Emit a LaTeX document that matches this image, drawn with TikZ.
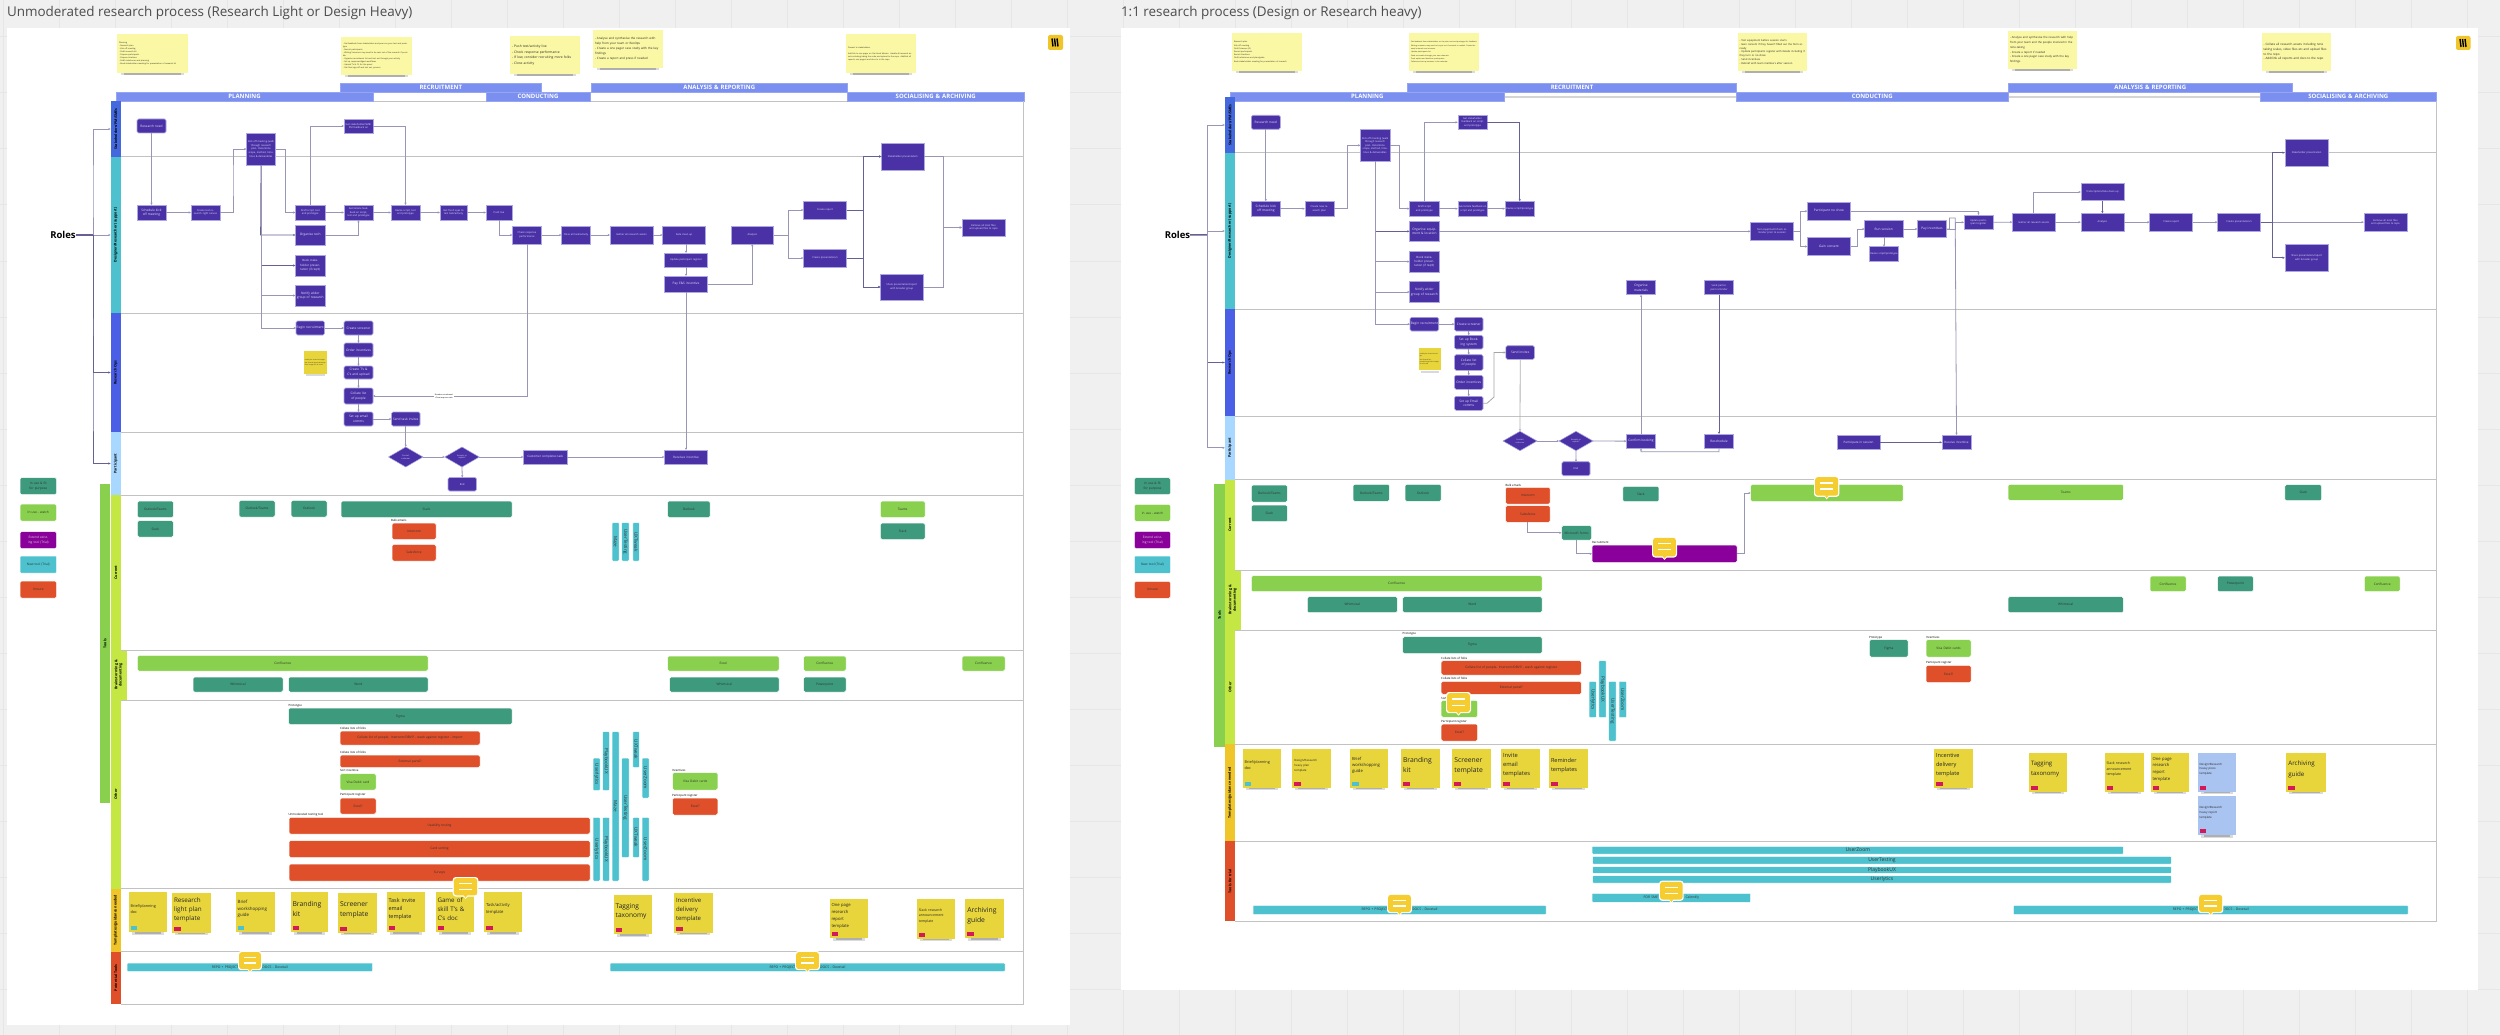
\documentclass[tikz,border=0pt]{standalone}
\usepackage{fontspec}
\setmainfont{Open Sans}
\usetikzlibrary{arrows.meta,shapes.geometric}
\definecolor{bgc}{HTML}{F0F0F0}\definecolor{gridc}{HTML}{E6E6E6}
\definecolor{procf}{HTML}{4A32A6}\definecolor{procb}{HTML}{ABA8E2}\definecolor{proct}{HTML}{E4E0F6}
\definecolor{phasec}{HTML}{7A8FEF}\definecolor{hrc}{HTML}{C2C2C2}
\definecolor{dkg}{HTML}{3D9A7C}\definecolor{ltg}{HTML}{88D04E}\definecolor{redc}{HTML}{DF4F2A}
\definecolor{tealc}{HTML}{4DC1CD}\definecolor{purc}{HTML}{8A009A}
\definecolor{limec}{HTML}{C4E744}\definecolor{yelc}{HTML}{F0C52A}
\definecolor{laneA}{HTML}{4468DE}\definecolor{laneC}{HTML}{4A5EE6}\definecolor{laneD}{HTML}{A8D8FF}
\definecolor{stkY}{HTML}{E8D53C}\definecolor{stkB}{HTML}{A9C4F0}\definecolor{noteY}{HTML}{FBF8A5}
\definecolor{tagR}{HTML}{D21A5A}\definecolor{tagC}{HTML}{4DC1CD}
\definecolor{cmtc}{HTML}{F5CD30}\definecolor{linec}{HTML}{9895B5}\definecolor{lined}{HTML}{666194}
\newcommand\Sz[2]{\fontsize{#1}{#2}\selectfont}
\tikzset{
 x=1pt,y=-1pt,
 base/.style={inner sep=0pt,outer sep=0pt,align=center},
 prc/.style={base,fill=procf,draw=procb,line width=.6pt,text=proct,font=\Sz{3.2}{4.6}},
 prr/.style={prc,rounded corners=1.5pt},
 prs/.style={prc,font=\Sz{2.5}{3.6}},
 dia/.style={diamond,inner sep=0pt,outer sep=0pt,align=center,fill=procf,draw=procb,line width=.5pt,text=proct,font=\Sz{2}{2.8}},
 tool/.style={base,rounded corners=1.5pt,draw=white,line width=.5pt,text=black!80,font=\Sz{3.2}{4.4}},
 toolD/.style={tool,fill=dkg},toolL/.style={tool,fill=ltg},toolR/.style={tool,fill=redc},
 toolT/.style={tool,fill=tealc,rounded corners=.8pt},toolP/.style={tool,fill=purc,text=white},
 phase/.style={base,fill=phasec,draw=phasec!80!white,line width=.4pt,text=white,font=\bfseries\Sz{6}{7}},
 lane/.style={base,text=black,font=\bfseries\Sz{3.6}{4.4}},
 hr/.style={draw=hrc,line width=1pt},
 conn/.style={draw=linec,line width=.8pt,-{Stealth[length=2.4pt,width=2.2pt]}},
 connd/.style={conn,draw=lined},
 lbl/.style={inner sep=0pt,outer sep=0pt,anchor=west,text=black,font=\Sz{2.9}{3.4}},
 ltext/.style={inner sep=0pt,outer sep=0pt,anchor=west,text=black!70,font=\Sz{13.45}{15}}
}
\newcommand\Bx[7]{\pgfmathsetmacro\tw{max(#5-#3-1,1)}\node[#1,minimum width={#5-#3},minimum height={#6-#4},text width=\tw pt] (#2) at ({(#3+#5)/2},{(#4+#6)/2}) {#7};}
\newcommand\Vb[8]{\node[#1,rotate=#2,minimum width={#7-#5},minimum height={#6-#4}] (#3) at ({(#4+#6)/2},{(#5+#7)/2}) {#8};}
\newcommand\Lb[4]{\node[lbl] (#1) at (#2,#3) {#4};}
\newcommand\Nt[8]{\pgfmathsetmacro\tw{#4-#2-4}%
 \fill[black,opacity=.14] ({#2+4},{#5-.5}) rectangle ({#4-4},{#5+2.4});\fill[black,opacity=.2] ({#2+7},{#5}) rectangle ({#4-7},{#5+1.6});%
 \node[inner sep=0pt,outer sep=0pt,fill=noteY,minimum width={#4-#2},minimum height={#5-#3},text width=\tw pt,align=left,text=black!85,font=\Sz{#6}{#7}] (#1) at ({(#2+#4)/2},{(#3+#5)/2}) {#8};}
\newcommand\Stk[9]{\pgfmathsetmacro\tw{#5-#3-4}%
 \fill[black,opacity=.14] ({#3+3},{#6-.5}) rectangle ({#5-3},{#6+2.6});\fill[black,opacity=.2] ({#3+6},{#6}) rectangle ({#5-6},{#6+1.6});%
 \node[inner sep=0pt,outer sep=0pt,fill=#1,minimum width={#5-#3},minimum height={#6-#4}] (#2) at ({(#3+#5)/2},{(#4+#6)/2}) {};%
 \fill[#8] ({#3+2},{#6-6}) rectangle ({#3+8.5},{#6-2});%
 \node[inner sep=0pt,outer sep=0pt,text width=\tw pt,align=left,text=black!85,font=#7,yshift=3pt] (#2t) at (#2.center) {#9};}
\newcommand\Cmt[4]{\pgfmathsetmacro\cmx{(#1+#3)/2}\pgfmathsetmacro\cw{#3-#1}\pgfmathsetmacro\ch{#4-#2}%
 \fill[white] ({\cmx-3},{#4-3.5}) -- ({\cmx+3},{#4-3.5}) -- (\cmx,#4) -- cycle;%
 \fill[white,rounded corners=3pt] (#1,#2) rectangle (#3,{#4-2.5});%
 \fill[cmtc] ({\cmx-2},{#4-4}) -- ({\cmx+2},{#4-4}) -- (\cmx,{#4-1.2}) -- cycle;%
 \fill[cmtc,rounded corners=2.4pt] ({#1+1.2},{#2+1.2}) rectangle ({#3-1.2},{#4-3.7});%
 \fill[white] ({#1+.25*\cw},{#2+.30*\ch-.7}) rectangle ({#3-.25*\cw},{#2+.30*\ch+.7});%
 \fill[white] ({#1+.25*\cw},{#2+.56*\ch-.7}) rectangle ({#3-.25*\cw},{#2+.56*\ch+.7});}
\begin{document}
\begin{tikzpicture}
\useasboundingbox (0,0) rectangle (2500,1035);
\fill[bgc] (0,0) rectangle (2500,1035);
\foreach \gx in {3,59,...,2500} \draw[gridc,line width=1pt] (\gx,0) -- (\gx,1035);
\foreach \gy in {37,93,...,1035} \draw[gridc,line width=1pt] (0,\gy) -- (2500,\gy);
% frames
\fill[white] (6.5,28) rectangle (1070,1025);
\fill[white] (1121,28) rectangle (2478,990);
\node[ltext] (titleL) at (7,13) {Unmoderated research process (Research Light or Design Heavy)};
\node[ltext] (titleR) at (1121,13) {1:1 research process (Design or Research heavy)};
% ---------- LEFT ----------
\Nt{ln1}{117}{34}{188}{73}{2}{3}{Planning\\- Research plan\\- Kick off meeting\\- Draft research kit\\- Prepare participants\\- Prepare timelines\\- Draft milestones and planning\\- Book stakeholders meeting for presentation of research kit}
\Nt{ln2}{341}{37}{412}{75}{2}{3}{- Get feedback from stakeholders and peers on your test and prototype\\- Recruit participants\\- Writing Screeners may need to be sent out of the research if possible\\- Organise recruitment list and test out through your activity\\- Set up response/digest workflows\\- Upload T's \& C's for the panel\\- Get final sign-off and test out, process}
\Nt{ln3}{510}{36}{580}{74}{3.3}{5.7}{- Push test/activity live\\- Check response performance\\- If low, consider recruiting more folks\\- Close activity}
\Nt{ln4}{593}{30}{663}{68}{3}{4.9}{- Analyse and synthesise the research with help from your team or ResOps\\- Create a one pager case study with the key findings\\- Create a report and press if needed}
\Nt{ln5}{846}{34}{916}{73}{2}{3}{Present to stakeholders\\[3pt]Add link to one pager on Get Hook Mentor. Handle all research assets including taking the scale and upload to the repo. Add/link all reports, one pagers and docs to in the repo}
\fill[white,rounded corners=1.5pt] (1044,32) rectangle (1067,54);
\fill[yelc,rounded corners=2pt] (1048,35) rectangle (1063,50);
\foreach \mx in {1052,1054.5,1057} \draw[black,line width=1.4pt] (\mx,38.5) -- ({\mx+1},46.5);
\draw[hrc,line width=.8pt] (116,101) -- (1023.5,101);
\Bx{phase}{phL1}{116}{92}{373}{101}{PLANNING}
\Bx{phase}{phL2}{340}{83}{541.5}{92}{RECRUITMENT}
\Bx{phase}{phL3}{486}{92}{590}{101}{CONDUCTING}
\Bx{phase}{phL4}{591}{83}{847.5}{92}{ANALYSIS \& REPORTING}
\Bx{phase}{phL5}{847.5}{92}{1024}{101}{SOCIALISING \& ARCHIVING}
\Vb{lane,fill=ltg}{90}{lsT}{100}{484}{110}{803}{Tools}
\Vb{lane,fill=laneA}{90}{lsA}{110.6}{101}{121}{157}{Stakeholders/PM/SMEs}
\Vb{lane,fill=tealc}{90}{lsB}{110.6}{157}{121}{313}{Designer/Researcher (support)}
\Vb{lane,fill=laneC}{90}{lsC}{110.6}{313}{121}{432}{Research Ops}
\Vb{lane,fill=laneD}{90}{lsD}{110.6}{432}{121}{495}{Participant}
\Vb{lane,fill=limec}{90}{lsE}{110.6}{495}{121}{650}{Current}
\Vb{lane,fill=limec}{90}{lsF}{110.6}{650}{126.5}{700}{Brainstorming \&\\documenting}
\Vb{lane,fill=limec}{90}{lsG}{110.6}{700}{121}{888.5}{Other}
\Vb{lane,fill=yelc}{90}{lsH}{110.6}{888.5}{121}{951.6}{Templates/guidance needed}
\Vb{lane,fill=redc}{90}{lsI}{110.6}{951.6}{121}{1004}{Potential Tools}
\foreach \hy in {157,313,432,495,650,700,888.5,951.6,1004} \draw[hr] (121,\hy) -- (1023.5,\hy);
\draw[hr] (1023.5,101) -- (1023.5,1004);
\node[inner sep=0pt,outer sep=0pt,text=black,font=\bfseries\Sz{9.5}{11}] (rolesL) at (63,235) {Roles};
\draw[connd,-,line width=1.3pt] (rolesL.east) -- (93,235);
\draw[conn] (rolesL.east) -| (93,200) |- (lsA.north);
\draw[conn] (rolesL.east) -- (lsB.north);
\draw[connd] (rolesL.east) -| (93,300) |- (lsC.north);
\draw[connd] (rolesL.east) -| (93,400) |- (lsD.north);
% left process nodes
\Bx{prr}{a1}{137}{119}{166}{133}{Research need}
\Bx{prc}{a2}{137}{205}{166}{220}{Schedule kick off meeting}
\Bx{prs}{a3}{191}{205}{220}{220}{Create test research -light canvas}
\Bx{prs}{a4}{246.5}{133}{275.5}{165}{Kick off meeting (walk through research plan. Determine scope, method, timelines \& deliverables}
\Bx{prs}{a5}{295.5}{205}{325}{220}{Draft script, test and prototype}
\Bx{prs}{a6}{344}{119}{373}{133}{Get stakeholder/SME/ PM feedback on}
\Bx{prs}{a7}{344}{205}{373}{220}{Get/collate feedback on script, test and prototype}
\Bx{prs}{a8}{391}{205}{420}{220}{Revise script, test and prototype}
\Bx{prs}{a9}{440}{205}{467}{220}{Get fresh eyes to test task/activity}
\Bx{prs}{a10}{486}{205}{512}{220}{Push live}
\Bx{prs}{a11}{512.5}{226}{541.5}{244}{Check response performance}
\Bx{prs}{a12}{561.5}{226}{590.5}{244}{Close all task/activity}
\Bx{prc}{a13}{295.5}{225}{325}{245}{Organise tech}
\Bx{prs,font=\Sz{2.9}{4.4}}{a14}{295.5}{255}{325}{276}{Book stakeholder presentation (if req'd)}
\Bx{prc}{a15}{295.5}{285}{325}{306}{Notify wider group of research}
\Bx{prr}{a16}{296}{321}{324.5}{335}{Begin recruitment}
\Bx{prr}{a17}{344}{321}{373}{335}{Create screener}
\Bx{prr}{a18}{344}{343}{373}{357}{Order incentives}
\Bx{prr}{a19}{344}{366}{373}{379}{Create T's \& C's and upload}
\Bx{prr}{a20}{344}{388}{373}{404}{Collate list of people}
\Bx{prr}{a21}{344}{412}{373}{426}{Set up email comms}
\Bx{prr}{a22}{391.5}{412}{420}{426}{Send task invites}
\Bx{prs}{a23}{610}{226}{653}{244}{Gather all research assets}
\Bx{prs}{a24}{662.6}{226}{705.5}{244}{Data clean up}
\Bx{prs}{a25}{664.5}{253}{707.5}{267}{Update participant register}
\Bx{prc}{a26}{664.5}{276}{707.5}{292}{Pay E\&S incentive}
\Bx{prs}{a27}{731}{226}{773.5}{244}{Analysis}
\Bx{prs}{a28}{803.5}{201}{846.5}{219}{Create report}
\Bx{prs}{a29}{803.5}{249}{846.5}{267}{Create presentation/s}
\Bx{prs}{a30}{881.5}{143}{924}{170}{Stakeholder presentation}
\Bx{prs}{a31}{880.5}{274}{923}{300}{Share presentation/report with broader group}
\Bx{prs}{a32}{962}{219}{1005}{236}{Remove all local files and upload files to repo}
\node[dia,minimum width=34.5pt,minimum height=20pt,aspect=1.7] (d1) at (405.75,457) {Contact\\customer};
\node[dia,minimum width=34.5pt,minimum height=20pt,aspect=1.7] (d2) at (462,457) {Accepts or\\rejects?};
\Bx{prr,font=\Sz{2.6}{3.6}}{a33}{448}{477.5}{476.5}{491}{End}
\Bx{prs,font=\Sz{3}{4}}{a34}{523.5}{450}{567}{464}{Customer completes task}
\Bx{prs,font=\Sz{3}{4}}{a35}{664.5}{450}{707.5}{464}{Receives incentive}
% yellow small note left
\fill[black,opacity=.15] (306,373.5) rectangle (325,376);
\node[inner sep=.8pt,fill=stkY,minimum width=22.5pt,minimum height=23pt,text width=20.9pt,align=left,text=black!85,font=\Sz{1.5}{2.2}] (yn1) at (315.25,362.5) {Initially the incentive budget.\\[1pt]Get financial approval/charge front budget for all travel};
% left connectors
\draw[conn] (a1.south) -- (a2.north);
\draw[conn] (a2.east) -- (a3.west);
\draw[conn] (a3.east) -| (233,180) |- (a4.west);
\draw[conn] (a4.east) -| (285.5,180) |- (a5.west);
\draw[connd] (a4.south) -- (260.6,235) -- (a13.west);
\draw[connd] (a4.south) |- (a14.west);
\draw[conn] (a4.south) |- (a15.west);
\draw[conn] (a4.south) |- (a16.west);
\draw[conn] (a5.north) |- (a6.west);
\draw[conn] (a6.east) -| (a8.north);
\draw[conn] (a5.east) -- (a7.west);
\draw[conn] (a7.east) -- (a8.west);
\draw[conn] (a8.east) -- (a9.west);
\draw[conn] (a9.east) -- (a10.west);
\draw[conn] (a10.south) |- (a11.west);
\draw[conn] (a11.east) -- (a12.west);
\draw[conn] (a12.east) -- (a23.west);
\draw[conn] (a23.east) -- (a24.west);
\draw[conn] (a13.east) -| (a7.south);
\draw[conn] (a16.east) -- (a17.west);
\draw[conn] (a17.south) -- (a18.north);
\draw[conn] (a18.south) -- (a19.north);
\draw[conn] (a19.south) -- (a20.north);
\draw[conn] (a20.south) -- (a21.north);
\draw[conn] (a21.east) -- (a22.west);
\draw[conn] (a22.south) -- (d1.north);
\draw[conn] (d1.east) -- (d2.west);
\draw[conn] (d2.south) -- (a33.north);
\draw[conn] (d2.east) -- (a34.west);
\draw[conn] (a34.east) -- (a35.west);
\draw[conn] (a24.south -| a25.north) -- (a25.north);
\draw[conn] (a25.south) -- (a26.north);
\draw[conn] (a26.south) -- (a35.north);
\draw[conn] (a26.east) -| (a27.south);
\draw[conn] (a27.east) -| (788,226) |- (a28.west);
\draw[conn] (a27.east) -| (788,240) |- (a29.west);
\draw[connd] (a28.east) -| (863.6,180) |- (a30.west);
\draw[connd] (a28.east) -| (863.6,250) |- (a31.west);
\draw[connd] (a29.east) -| (863.6,200) |- (a30.west);
\draw[connd] (a29.east) -| (863.6,275) |- (a31.west);
\draw[conn] (a30.east) -| (943,200) |- (a32.west);
\draw[conn] (a31.east) -| (943,250) |- (a32.west);
\draw[conn] (a11.south) |- (a20.east);
\node[fill=white,inner sep=.6pt,align=center,text=black,font=\Sz{1.9}{2.6}] (lb1) at (444,396.5) {Broader recruitment\\if low response rate};
% left legend
\Bx{toolD}{lgL1}{20}{477.5}{56.6}{494.7}{In use \& fit for purpose}
\Bx{toolL}{lgL2}{20}{504}{56.6}{521}{In use - watch}
\Bx{toolP,text=white!85!black}{lgL3}{20}{531.5}{56.6}{548.6}{Extend existing tool (Trial)}
\Bx{toolT}{lgL4}{20}{556}{56.6}{573}{New tool (Trial)}
\Bx{toolR}{lgL5}{20}{581}{56.6}{598}{Unsure}
% left tools current
\Bx{toolD}{ta1}{137.4}{501}{173.4}{517.6}{Outlook/Teams}
\Bx{toolD}{ta2}{137.4}{520.7}{173.4}{537}{Slack}
\Bx{toolD}{ta3}{239}{500.4}{275}{517}{Outlook/Teams}
\Bx{toolD}{ta4}{291}{500.4}{327}{517}{Outlook}
\Bx{toolD}{ta5}{341}{501}{512}{517.6}{Slack}
\Lb{la1}{391}{520.7}{Bulk emails}
\Bx{toolR}{ta6}{392}{523}{436}{539.5}{Intercom}
\Bx{toolR}{ta7}{392}{544.4}{436}{561}{Salesforce}
\Vb{toolT,font=\Sz{4.6}{5}}{-90}{tv1}{612}{522.6}{619}{561}{Maze}
\Vb{toolT,font=\Sz{4.6}{5}}{-90}{tv2}{621.7}{522.6}{629}{561}{UserTesting}
\Vb{toolT,font=\Sz{4.6}{5}}{-90}{tv3}{632.8}{522.6}{639.3}{561}{UXTweak}
\Bx{toolD}{ta8}{667.6}{501}{710}{517.6}{Outlook}
\Bx{toolL}{ta9}{880.4}{501}{925}{517.6}{Teams}
\Bx{toolD}{ta10}{880.4}{523}{925}{539.5}{Slack}
% left brainstorm
\Bx{toolL}{tb1}{137.4}{655.4}{428}{671}{Confluence}
\Bx{toolD}{tb2}{193}{677}{283}{692}{Whimsical}
\Bx{toolD}{tb3}{288.6}{677}{428}{692}{Word}
\Bx{toolL}{tb4}{667.6}{656}{779}{671}{Excel}
\Bx{toolD}{tb5}{669.5}{677}{779}{692}{Whimsical}
\Bx{toolL}{tb6}{803.5}{656}{846}{671}{Confluence}
\Bx{toolD}{tb7}{803.5}{677}{846}{692}{Powerpoint}
\Bx{toolL}{tb8}{962}{656}{1005}{671}{Confluence}
% left other
\Lb{la2}{288.6}{705.5}{Prototype}
\Bx{toolD}{tc1}{288.6}{708}{512}{724.7}{Figma}
\Lb{la3}{340}{728.5}{Collate lists of folks}
\Bx{toolR}{tc2}{340}{731}{480}{745}{Collate list of people. Intercom/DBVI? - wash against register - import}
\Lb{la4}{340}{752.4}{Collate lists of folks}
\Bx{toolR}{tc3}{340}{755}{480}{767.5}{External panel?}
\Lb{la5}{340}{770.8}{Sort incentive}
\Bx{toolL}{tc4}{340}{773.7}{376}{790}{Visa Debit card}
\Lb{la6}{340}{794.9}{Participant register}
\Bx{toolR}{tc5}{340}{798}{376}{814}{Excel?}
\Lb{la7}{288.6}{814.8}{Unmoderated testing tool}
\Bx{toolR}{tc6}{289}{817.3}{590}{834}{Usability testing}
\Bx{toolR}{tc7}{289}{840.6}{590}{857.5}{Card sorting}
\Bx{toolR}{tc8}{289}{864}{590}{881}{Surveys}
\Vb{toolT,font=\Sz{4.6}{5}}{-90}{tw1}{593}{758}{600}{790.5}{Userlytics}
\Vb{toolT,font=\Sz{4.6}{5}}{-90}{tw2}{602.6}{731.6}{609.5}{790.5}{PlaybookUX}
\Vb{toolT,font=\Sz{4.6}{5}}{-90}{tw3}{612}{731.6}{619}{881}{Maze}
\Vb{toolT,font=\Sz{4.6}{5}}{-90}{tw4}{621.7}{758}{629}{857.5}{UserTesting}
\Vb{toolT,font=\Sz{4.6}{5}}{-90}{tw5}{632.8}{731.6}{639.3}{767.5}{UXTweak}
\Vb{toolT,font=\Sz{4.6}{5}}{-90}{tw6}{642}{758}{649}{798}{UserZoom}
\Vb{toolT,font=\Sz{4.6}{5}}{-90}{tw7}{593}{817.3}{600}{881}{Userlytics}
\Vb{toolT,font=\Sz{4.6}{5}}{-90}{tw8}{602.6}{817.3}{609.5}{881}{PlaybookUX}
\Vb{toolT,font=\Sz{4.6}{5}}{-90}{tw9}{632.8}{817.3}{639.3}{857.5}{UXTweak}
\Vb{toolT,font=\Sz{4.6}{5}}{-90}{tw10}{642}{817.3}{649}{881}{UserZoom}
\Lb{la8}{672}{770}{Incentives}
\Bx{toolL}{tc9}{672.6}{772.5}{717.8}{790}{Visa Debit cards}
\Lb{la9}{672}{796}{Participant register}
\Bx{toolR}{tc10}{672.6}{798}{717.8}{815}{Excel?}
% left template stickies
\Stk{stkY}{sa1}{128.6}{892}{167}{932}{\Sz{3.8}{6}}{tagC}{Brief/planning\\doc}
\Stk{stkY}{sa2}{172}{893}{211}{932.5}{\Sz{6.3}{8.8}}{tagR}{Research\\light plan\\template}
\Stk{stkY}{sa3}{235.7}{892}{275}{932}{\Sz{4.4}{6.2}}{tagC}{Brief\\workshopping\\guide}
\Stk{stkY}{sa4}{290.5}{892}{328}{932}{\Sz{6.8}{9.6}}{tagR}{Branding\\kit}
\Stk{stkY}{sa5}{338}{893}{377}{932.5}{\Sz{6.8}{9.6}}{tagR}{Screener\\template}
\Stk{stkY}{sa6}{386.5}{892}{425}{932}{\Sz{5.5}{8.3}}{tagR}{Task invite\\email\\template}
\Stk{stkY}{sa7}{435.5}{892}{474}{932}{\Sz{6.2}{9}}{tagR}{Game of\\skill T's \&\\C's doc}
\Stk{stkY}{sa8}{484}{892}{522}{932}{\Sz{4.2}{7.5}}{tagR}{Task/activity\\template}
\Stk{stkY}{sa9}{613.7}{894.6}{652}{934}{\Sz{6.6}{9.4}}{tagR}{Tagging\\taxonomy}
\Stk{stkY}{sa10}{674}{893}{713}{932.5}{\Sz{6}{8.8}}{tagR}{Incentive\\delivery\\template}
\Stk{stkY}{sa11}{829.5}{899}{868}{938}{\Sz{4.2}{7}}{tagR}{One page\\research\\report\\template}
\Stk{stkY}{sa12}{916.8}{899}{955.4}{938.6}{\Sz{3.5}{5.6}}{tagR}{Slack research\\announcement\\template}
\Stk{stkY}{sa13}{965.4}{899}{1004}{938}{\Sz{6.8}{9.6}}{tagR}{Archiving\\guide}
\Bx{toolT,font=\Sz{3.4}{4}}{pa1}{127}{963}{372.7}{971.5}{REPO + PROJECT\hspace{24pt}DOCS - Dovetail}
\Bx{toolT,font=\Sz{3.4}{4}}{pa2}{610}{963}{1005}{971.5}{REPO + PROJECT\hspace{24pt}DOCS - Dovetail}
\Cmt{238}{951}{262}{972.7}
\Cmt{795}{951}{820}{972.7}
\Cmt{452.7}{877}{478.4}{899}
% ---------- RIGHT ----------
\Nt{rn1}{1232}{33}{1302}{71}{2}{3.2}{Research plan\\Kick off meeting\\Draft Screener (if)\\Recruit participants\\Recruit timelines\\Draft milestones and plan/guide\\Book stakeholders meeting for presentation of research}
\Nt{rn2}{1409}{33}{1479}{71}{1.8}{2.7}{Get feedback from stakeholders on the plan, test and prototype for feedback\\[1pt]Writing screeners may need to be put out if research is needed. Create the email outreach and screener\\[1pt]Update participants list\\[1pt]Send out emails through your own channels\\Track replies and book/run participants\\Collate and set up sessions in the calendar}
\Nt{rn3}{1737.6}{33}{1807}{71}{2.6}{3.7}{- Test equipment before session starts\\- Gain consent if they haven't filled out the form already\\- Update participants register with details including if they turn or no-show\\- Send incentives\\- Debrief with team members after session}
\Nt{rn4}{2008}{31}{2077}{69}{2.8}{4.7}{- Analyse and synthesise the research with help from your team and the people involved in the note-taking\\- Create a report if needed\\- Create a one pager case study with the key findings}
\Nt{rn5}{2261.6}{33}{2331}{71}{3}{4.8}{- Collate all research assets including note taking scales, video files etc and upload files to the repo\\- Add/link all reports and docs to the repo}
\fill[white,rounded corners=1.5pt] (2452.6,32) rectangle (2474,53);
\fill[yelc,rounded corners=2pt] (2456,36) rectangle (2470.5,50);
\foreach \mx in {2460,2462.5,2465} \draw[black,line width=1.4pt] (\mx,39) -- ({\mx+1},47);
\draw[hrc!70!white,line width=2pt] (1504,97) -- (1736,97);
\draw[hrc!70!white,line width=2pt] (2008,97) -- (2260,97);
\Bx{phase}{phR1}{1230.6}{92}{1504}{101}{PLANNING}
\Bx{phase}{phR2}{1407.6}{83}{1736.4}{92}{RECRUITMENT}
\Bx{phase}{phR3}{1736.4}{92}{2008}{101}{CONDUCTING}
\Bx{phase}{phR4}{2008}{83}{2292.6}{92}{ANALYSIS \& REPORTING}
\Bx{phase}{phR5}{2260}{92}{2436.6}{101}{SOCIALISING \& ARCHIVING}
\Vb{lane,fill=ltg}{90}{rsT}{1214.4}{483.7}{1224.8}{747}{Tools}
\Vb{lane,fill=laneA}{90}{rsA}{1224.8}{97}{1235}{153}{Stakeholders/PM/SMEs}
\Vb{lane,fill=tealc}{90}{rsB}{1224.8}{153}{1235}{309}{Designer/Researcher (support)}
\Vb{lane,fill=laneC}{90}{rsC}{1224.8}{309}{1235}{416}{Research Ops}
\Vb{lane,fill=laneD}{90}{rsD}{1224.8}{416}{1235}{479.7}{Participant}
\Vb{lane,fill=limec}{90}{rsE}{1224.8}{479.7}{1235}{570}{Current}
\Vb{lane,fill=limec}{90}{rsF}{1224.8}{570}{1240.5}{630}{Brainstorming \&\\documenting}
\Vb{lane,fill=limec}{90}{rsG}{1224.8}{630}{1235}{744.3}{Other}
\Vb{lane,fill=yelc}{90}{rsH}{1224.8}{744.3}{1235}{841.3}{Templates/guidance needed}
\Vb{lane,fill=redc}{90}{rsI}{1224.8}{841.3}{1235}{921}{Tools for trial}
\foreach \hy in {153,309,416,479.7,570,630,744.3,841.3,921} \draw[hr] (1235,\hy) -- (2436.6,\hy);
\draw[hr] (2436.6,101) -- (2436.6,921);
\node[inner sep=0pt,outer sep=0pt,text=black,font=\bfseries\Sz{9.5}{11}] (rolesR) at (1177.5,235) {Roles};
\draw[connd,-,line width=1.3pt] (rolesR.east) -- (1207,235);
\draw[conn] (rolesR.east) -| (1207,200) |- (rsA.north);
\draw[conn] (rolesR.east) -| (1207,233) |- (rsB.north);
\draw[connd] (rolesR.east) -| (1207,300) |- (rsC.north);
\draw[conn] (rolesR.east) -| (1207,400) |- (rsD.north);
\Bx{prr}{b1}{1251.3}{115.3}{1280.3}{129.3}{Research need}
\Bx{prc}{b2}{1251.3}{201.3}{1280.3}{216}{Schedule kick off meeting}
\Bx{prs}{b3}{1304.8}{201.3}{1333.8}{216}{Create new research plan}
\Bx{prs}{b4}{1360.4}{129.7}{1389.8}{161}{Kick off meeting (walk through research plan. Determine scope, method, timelines \& deliverables}
\Bx{prs}{b5}{1409.7}{201.3}{1439}{216}{Draft script and prototype}
\Bx{prs}{b6}{1457.8}{115.3}{1487.2}{129.3}{Get stakeholder feedback on script and prototype}
\Bx{prs}{b7}{1457.8}{201.3}{1487.2}{216}{Get/collate feedback on script and prototype}
\Bx{prs}{b8}{1505}{201.3}{1534.5}{216}{Revise script/prototype}
\Bx{prc}{b9}{1409.7}{221}{1439}{241.7}{Organise equipment \& location}
\Bx{prs,font=\Sz{2.9}{4.4}}{b10}{1409.7}{251.3}{1439}{272}{Book stakeholder presentation (if req'd)}
\Bx{prc}{b11}{1409.7}{281.7}{1439}{302.3}{Notify wider group of research}
\Bx{prr}{b12}{1410}{317.3}{1438.7}{331}{Begin recruitment}
\Bx{prr}{b13}{1454.5}{317.3}{1483}{331}{Create screener}
\Bx{prr}{b14}{1454.5}{335.3}{1483}{349}{Set up Booking system}
\Bx{prr}{b15}{1454.5}{354.7}{1483}{370.3}{Collate list of people}
\Bx{prr}{b16}{1454.5}{375.3}{1483}{389.3}{Order incentives}
\Bx{prr}{b17}{1454.5}{396.3}{1483}{410.3}{Set up Email comms}
\Bx{prr}{b18}{1505.9}{345.7}{1534.5}{359.3}{Send invites}
\Bx{prc}{b19}{1626.5}{280.7}{1655.6}{294.7}{Organise materials}
\Bx{prs}{b20}{1704.5}{280.7}{1733.5}{294.7}{Send participant reminder}
\Bx{prc}{b21}{1626.5}{434}{1655.6}{448.3}{Confirm booking}
\Bx{prc}{b22}{1704.5}{434}{1733.5}{448.3}{Reschedule}
\node[dia,minimum width=34pt,minimum height=19.4pt,aspect=1.7] (d3) at (1520,441) {Contact\\customer};
\node[dia,minimum width=34pt,minimum height=19.4pt,aspect=1.7] (d4) at (1576,441) {Accepts or\\rejects?};
\Bx{prr,font=\Sz{2.6}{3.6}}{b23}{1561.9}{461.7}{1590}{475.7}{End}
\Bx{prs}{b24}{1750.7}{222.7}{1793.3}{240}{Test equipment/check reminder prior to session}
\Bx{prc}{b25}{1807.4}{202.3}{1850.5}{220}{Participant no show}
\Bx{prc}{b26}{1807.4}{237.7}{1850.5}{255.3}{Gain consent}
\Bx{prc}{b27}{1864.6}{220.7}{1902.9}{237.3}{Run session}
\Bx{prs}{b28}{1869.4}{246.7}{1898.5}{261.3}{Revise script/prototype}
\Bx{prc}{b29}{1917.4}{220.7}{1946.5}{237.3}{Pay incentives}
\Bx{prs}{b30}{1964}{215}{1993}{229.7}{Update participant register}
\Bx{prs}{b31}{2012.4}{213.3}{2055}{231}{Gather all research assets}
\Bx{prs}{b32}{2080.8}{183.3}{2124}{200.7}{Transcription/data clean up}
\Bx{prs}{b33}{2080.8}{213.3}{2124}{231}{Analysis}
\Bx{prs}{b34}{2149.6}{213.3}{2192.7}{231}{Create report}
\Bx{prs}{b35}{2217.5}{213.3}{2260.6}{231}{Create presentation/s}
\Bx{prs}{b36}{2284.8}{139.3}{2328.4}{166}{Stakeholder presentation}
\Bx{prs}{b37}{2284.8}{244.3}{2328.4}{271.3}{Share presentation/report with broader group}
\Bx{prs}{b38}{2363.8}{213.3}{2407}{231}{Remove all local files and upload files to repo}
\Bx{prs,font=\Sz{3}{4}}{b39}{1837}{435}{1880}{449.7}{Participate in session}
\Bx{prs,font=\Sz{3}{4}}{b40}{1942}{435}{1971}{449.7}{Receive incentive}
\fill[black,opacity=.15] (1421,370.5) rectangle (1439,373);
\node[inner sep=.8pt,fill=stkY,minimum width=21.8pt,minimum height=22.6pt,text width=20.2pt,align=left,text=black!85,font=\Sz{1.5}{2.2}] (yn2) at (1429.9,359) {Initially the incentive budget.\\[1pt]Get financial approval/charge front budget for all travel};
% right connectors
\draw[conn] (b1.south) -- (b2.north);
\draw[conn] (b2.east) -- (b3.west);
\draw[conn] (b3.east) -| (1347,180) |- (b4.west);
\draw[conn] (b4.east) -| (1399.3,180) |- (b5.west);
\draw[connd] (b4.south) |- (b9.west);
\draw[conn] (b4.south) |- (b10.west);
\draw[conn] (b4.south) |- (b11.west);
\draw[conn] (b4.south) |- (b12.west);
\draw[conn] (b5.north) |- (b6.west);
\draw[connd] (b6.east) -| (b8.north);
\draw[conn] (b5.east) -- (b7.west);
\draw[conn] (b7.east) -- (b8.west);
\draw[conn] (b9.east) -- (b24.west);
\draw[conn] (b12.east) -- (b13.west);
\draw[conn] (b13.south) -- (b14.north);
\draw[conn] (b14.south) -- (b15.north);
\draw[conn] (b15.south) -- (b16.north);
\draw[conn] (b16.south) -- (b17.north);
\draw[conn,draw=black!35] (b17.east) -- (1487,403.3) -- (1494,397) -- (1494,352.5) -- (b18.west);
\draw[conn,draw=black!30] (b18.south) -- (d3.north);
\draw[conn] (d3.east) -- (d4.west);
\draw[conn] (d4.east) -- (b21.west);
\draw[conn] (d4.south) -- (b23.north);
\draw[conn] (b21.north) -- (b19.south);
\draw[connd] (b20.south) -- (b22.north);
\draw[conn] (b22.south) -- (1719,451.7) -- (1641,451.7) -- (b21.south);
\draw[conn] (b24.east) -| (1800.6,215) |- (b25.west);
\draw[conn] (b24.east) -| (1800.6,240) |- (b26.west);
\draw[conn] (b25.east) -| (b30.north);
\draw[conn] (b26.east) -| (1857.3,240) |- (b27.west);
\draw[conn] (b27.east) -- (b29.west);
\draw[conn] (b27.south -| b28.north) -- (b28.north);
\draw[conn] (b29.east) -- (1949.4,229) -- (1949.4,218) -- (1955.2,218) -- (b40.north);
\draw[conn] (b29.east) -| (1955.2,225) |- (b30.west);
\draw[connd] (b39.east) -- (b40.west);
\draw[conn] (b30.east) -- (b31.west);
\draw[conn] (b31.east) -- (b33.west);
\draw[conn] (b31.north) |- (b32.west);
\draw[connd] (b32.south) -- (b33.north);
\draw[conn] (b33.east) -- (b34.west);
\draw[conn] (b34.east) -- (b35.west);
\draw[conn] (b35.east) -- (b38.west);
\draw[connd] (b35.east) -| (2272.7,200) |- (b36.west);
\draw[connd] (b35.east) -| (2272.7,240) |- (b37.west);
% right legend
\Bx{toolD}{lgR1}{1134.4}{477.7}{1170.5}{494.7}{In use \& fit for purpose}
\Bx{toolL}{lgR2}{1134.4}{504.3}{1170.5}{521.3}{In use - watch}
\Bx{toolP,text=white!85!black}{lgR3}{1134.4}{531.3}{1170.5}{548.7}{Extend existing tool (Trial)}
\Bx{toolT}{lgR4}{1134.4}{556}{1170.5}{573.3}{New tool (Trial)}
\Bx{toolR}{lgR5}{1134.4}{581.3}{1170.5}{598.3}{Unsure}
% right tools
\Bx{toolD}{ra1}{1251.3}{485}{1287.4}{502}{Outlook/Teams}
\Bx{toolD}{ra2}{1251.3}{505}{1287.4}{521.7}{Slack}
\Bx{toolD}{ra3}{1353}{484.3}{1389.4}{501.3}{Outlook/Teams}
\Bx{toolD}{ra4}{1405}{484.3}{1441.2}{501.3}{Outlook}
\Lb{lc1}{1505.5}{485}{Bulk emails}
\Bx{toolR}{ra5}{1505.5}{487.3}{1550.2}{504}{Intercom}
\Bx{toolR}{ra6}{1505.5}{505.7}{1550.2}{522.3}{Salesforce}
\Bx{toolD}{ra7}{1561.5}{525.7}{1591.7}{540}{Microsoft forms}
\Lb{lc2}{1592}{542.7}{Recruitment}
\Bx{toolP}{ra8}{1592}{545}{1737}{562.7}{}
\Bx{toolD}{ra9}{1622.8}{486.3}{1658.9}{501.7}{Slack}
\Bx{toolL}{ra10}{1750.7}{484.3}{1903}{501.7}{}
\Bx{toolL}{ra11}{2008}{484.3}{2123.4}{500.3}{Teams}
\Bx{toolD}{ra12}{2284.8}{484.7}{2321.7}{500.7}{Slack}
\draw[conn] (ra6.south) |- (ra7.west);
\draw[conn] (ra7.south) |- (ra8.west);
\draw[conn] (ra8.east) -| (1743.9,520) |- (ra10.west);
\Bx{toolL}{rb1}{1251.3}{575.7}{1542}{591.7}{Confluence}
\Bx{toolD}{rb2}{1307.3}{596.7}{1397.3}{612.7}{Whimsical}
\Bx{toolD}{rb3}{1402.7}{596.7}{1542}{612.7}{Word}
\Bx{toolD}{rb4}{2008}{596.7}{2123.4}{612.7}{Whimsical}
\Bx{toolL}{rb5}{2150}{576}{2186}{591.7}{Confluence}
\Bx{toolD}{rb6}{2217.5}{576}{2253.3}{591.7}{Powerpoint}
\Bx{toolL}{rb7}{2364.3}{576}{2400}{591.7}{Confluence}
\Lb{lc3}{1402.7}{633.9}{Prototype}
\Bx{toolD}{rc1}{1402.7}{636.7}{1542}{653.7}{Figma}
\Lb{lc4}{1441.2}{658.3}{Collate lists of folks}
\Bx{toolR}{rc2}{1441.2}{660.7}{1581.3}{675}{Collate list of people. Intercom/DBVI? - wash against register}
\Lb{lc5}{1441.2}{678.7}{Collate lists of folks}
\Bx{toolR}{rc3}{1441.2}{681.3}{1581.3}{694.3}{External panel?}
\Lb{lc6}{1441.2}{698}{Sort incentive}
\Bx{toolL}{rc4}{1441.2}{700.3}{1477.7}{717.3}{}
\Lb{lc7}{1441.2}{721.7}{Participant register}
\Bx{toolR}{rc5}{1441.2}{724}{1477.7}{741}{Excel?}
\Vb{toolT,font=\Sz{4.6}{5}}{-90}{rv1}{1589.2}{681.3}{1596.3}{717.7}{Userlytics}
\Vb{toolT,font=\Sz{4.6}{5}}{-90}{rv2}{1598.8}{660.7}{1606.2}{717.7}{PlaybookUX}
\Vb{toolT,font=\Sz{4.6}{5}}{-90}{rv3}{1608.7}{681.3}{1616.2}{741}{UserTesting}
\Vb{toolT,font=\Sz{4.6}{5}}{-90}{rv4}{1619}{681.3}{1626.5}{717.7}{UserZoom}
\Lb{lc8}{1869}{637.7}{Prototype}
\Bx{toolD}{rc6}{1869.4}{639.7}{1908.2}{657}{Figma}
\Lb{lc9}{1926}{637.7}{Incentives}
\Bx{toolL}{rc7}{1926}{639.7}{1971}{657}{Visa Debit cards}
\Lb{lc10}{1926}{662.3}{Participant register}
\Bx{toolR}{rc8}{1926}{665.3}{1971}{682.7}{Excel?}
% right stickies
\Stk{stkY}{sb1}{1242.6}{749}{1280.8}{787.7}{\Sz{3.8}{6.4}}{tagC}{Brief/planning\\doc}
\Stk{stkY}{sb2}{1292.4}{749}{1331}{787.7}{\Sz{2.9}{5}}{tagR}{Design/Research\\heavy plan\\template}
\Stk{stkY}{sb3}{1350}{749}{1388}{787.7}{\Sz{4.2}{6.4}}{tagC}{Brief\\workshopping\\guide}
\Stk{stkY}{sb4}{1401}{749}{1439.6}{787.7}{\Sz{6.8}{10}}{tagR}{Branding\\kit}
\Stk{stkY}{sb5}{1452.4}{749}{1491}{787.7}{\Sz{6.8}{10}}{tagR}{Screener\\template}
\Stk{stkY}{sb6}{1501}{749}{1539.5}{787.7}{\Sz{5.8}{9.2}}{tagR}{Invite\\email\\templates}
\Stk{stkY}{sb7}{1549}{749}{1587.6}{787.7}{\Sz{5.6}{9.6}}{tagR}{Reminder\\templates}
\Stk{stkY}{sb8}{1934}{749}{1972.7}{787.7}{\Sz{5.6}{9.2}}{tagR}{Incentive\\delivery\\template}
\Stk{stkY}{sb9}{2029}{752.7}{2067}{791.7}{\Sz{6}{9.6}}{tagR}{Tagging\\taxonomy}
\Stk{stkY}{sb10}{2104.5}{752.7}{2143.8}{791.7}{\Sz{3.5}{5.6}}{tagR}{Slack research\\announcement\\template}
\Stk{stkY}{sb11}{2150.6}{752.7}{2189.4}{791.7}{\Sz{4.2}{6.8}}{tagR}{One page\\research\\report\\template}
\Stk{stkB}{sb12}{2197.6}{752.7}{2236.4}{791.7}{\Sz{2.9}{4.8}}{tagR}{Design/Research\\heavy press\\template}
\Stk{stkB}{sb13}{2197.6}{796}{2236.4}{835}{\Sz{2.9}{4.8}}{tagR}{Design/Research\\heavy report\\template}
\Stk{stkY}{sb14}{2286.3}{752.7}{2325.5}{791.7}{\Sz{6.2}{10.4}}{tagR}{Archiving\\guide}
% trial bars
\Bx{toolT,font=\Sz{5}{6}}{pb1}{1592}{846.3}{2123.4}{854}{UserZoom}
\Bx{toolT,font=\Sz{5}{6}}{pb2}{1592.5}{856.3}{2171.4}{864}{UserTesting}
\Bx{toolT,font=\Sz{5}{6}}{pb3}{1592.5}{866.7}{2171.4}{873.3}{PlaybookUX}
\Bx{toolT,font=\Sz{5}{6}}{pb4}{1592.5}{875.7}{2171.4}{883}{Userlytics}
\Bx{toolT,font=\Sz{3.4}{4}}{pb5}{1592}{893.3}{1750.7}{902.3}{FOR SME P\hspace{22pt}- Calendly}
\Bx{toolT,font=\Sz{3.4}{4}}{pb6}{1253}{905.3}{1546}{914.7}{REPO + PROJECT\hspace{24pt}DOCS - Dovetail}
\Bx{toolT,font=\Sz{3.4}{4}}{pb7}{2013.4}{905.3}{2408}{914.7}{REPO + PROJECT\hspace{24pt}DOCS - Dovetail}
\Cmt{1652}{536.7}{1677}{560}
\Cmt{1814}{476}{1839.4}{499.3}
\Cmt{1446}{692}{1471}{715.7}
\Cmt{1659}{880.7}{1683.7}{903.3}
\Cmt{1387}{893.7}{1412}{915.7}
\Cmt{2198}{893.7}{2223.3}{915.7}
\end{tikzpicture}
\end{document}
